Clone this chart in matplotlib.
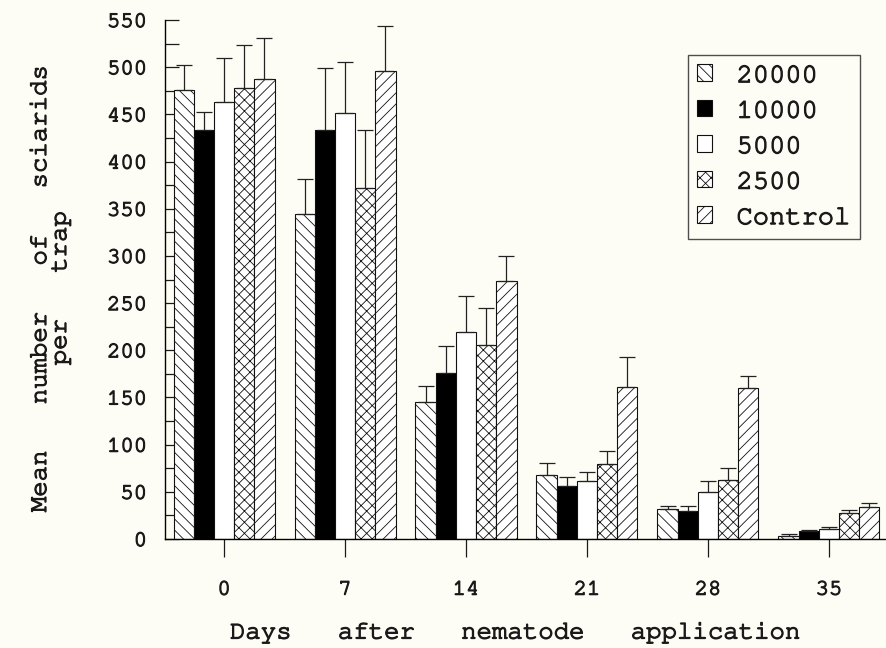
import matplotlib
matplotlib.use("Agg")
import matplotlib.pyplot as plt
from matplotlib import font_manager
import matplotlib.patheffects as pe
import numpy as np

days = ["0", "7", "14", "21", "28", "35"]
series_names = ["20000", "10000", "5000", "2500", "Control"]
mean_20000 = [476, 344, 145, 68, 32, 3]
mean_10000 = [433, 433, 176, 56, 30, 8]
mean_5000 = [463, 451, 219, 61, 50, 11]
mean_2500 = [478, 372, 206, 80, 62, 28]
mean_control = [488, 496, 273, 161, 160, 34]
err_20000 = [26, 37, 17, 13, 3, 2]
err_10000 = [20, 66, 29, 10, 5, 2]
err_5000 = [47, 54, 38, 10, 11, 2]
err_2500 = [45, 61, 39, 13, 13, 3]
err_control = [43, 48, 27, 32, 13, 4]

means = [mean_20000, mean_10000, mean_5000, mean_2500, mean_control]
errs = [err_20000, err_10000, err_5000, err_2500, err_control]
hatches = ["\\\\\\", "", "", "xxx", "///"]
faces = ["white", "black", "white", "white", "white"]

installed = {f.name for f in font_manager.fontManager.ttflist}
candidates = ["Nimbus Mono PS", "Nimbus Mono L", "FreeMono", "TeX Gyre Cursor",
              "Courier New", "Courier", "Liberation Mono", "DejaVu Sans Mono"]
fams = [c for c in candidates if c in installed] or ["DejaVu Sans Mono"]

BG = "#fefdf5"
TXT = "#1a1a1a"
plt.rcParams["font.family"] = fams
plt.rcParams["text.color"] = TXT
plt.rcParams["xtick.color"] = TXT
plt.rcParams["ytick.color"] = TXT
plt.rcParams["hatch.linewidth"] = 0.6
plt.rcParams["hatch.color"] = "#222222"
thick = [pe.withStroke(linewidth=0.9, foreground=TXT)]

fig = plt.figure(figsize=(8.87, 6.48), dpi=100, facecolor=BG)
ax = fig.add_axes([165/887, 1-539/648, 1-165/887, (539-20)/648])
ax.set_facecolor(BG)

x = np.arange(len(days))
w = 0.167
for i, (m, e) in enumerate(zip(means, errs)):
    pos = x + (i - 2) * w
    ax.bar(pos, m, width=w, color=faces[i], edgecolor="#111111", linewidth=0.8,
           hatch=hatches[i], label=series_names[i], zorder=2)
    ax.errorbar(pos, m, yerr=[np.zeros(len(e)), e], fmt="none", ecolor="#222222",
                elinewidth=0.9, capsize=6, capthick=0.9, zorder=3)

ax.set_xlim(-0.488, 5.48)
ax.set_ylim(0, 550)
ax.set_xticks(x)
ax.set_xticklabels(days)
ax.set_yticks(np.arange(0, 551, 50))
ax.set_yticks(np.arange(0, 551, 25), minor=True)
ax.tick_params(axis="y", which="both", direction="in", length=10, width=0.9,
               labelsize=16, pad=13)
ax.tick_params(axis="x", direction="out", length=13, width=0.9, labelsize=16, pad=17)
for s in ["top", "right"]:
    ax.spines[s].set_visible(False)
for s in ["left", "bottom"]:
    ax.spines[s].set_linewidth(1.0)
for t in ax.get_xticklabels() + ax.get_yticklabels():
    t.set_path_effects(thick)

fig.text(51/887, 1-288/648, "Mean   number   of   sciarids\nper   trap",
         rotation=90, ha="center", va="center", fontsize=18.5, linespacing=1.0,
         multialignment="center", path_effects=thick)
fig.text(516/887, 1-633/648, "Days   after   nematode   application",
         ha="center", va="center", fontsize=18.5, path_effects=thick)

leg = ax.legend(loc="upper right", bbox_to_anchor=((860-165)/722, (539-55)/519),
                borderaxespad=0, fontsize=19.5, frameon=True, fancybox=False,
                edgecolor="#222222", handlelength=0.55, handleheight=0.55,
                handletextpad=0.9, labelspacing=0.47, borderpad=0.35, facecolor=BG)
leg.get_frame().set_linewidth(1.0)
for t in leg.get_texts():
    t.set_path_effects(thick)

fig.savefig("out.png", dpi=100, facecolor=BG)
